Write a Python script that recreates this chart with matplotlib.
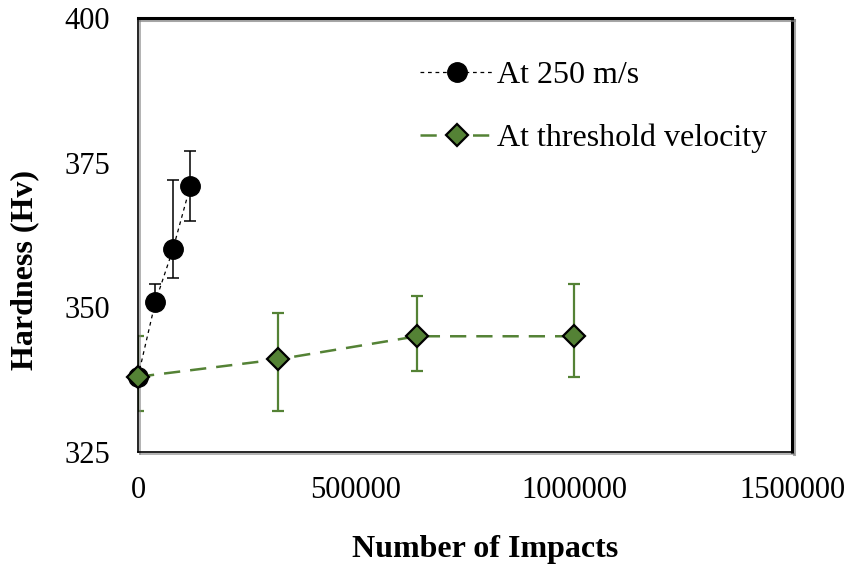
import matplotlib
matplotlib.use("Agg")
import matplotlib.pyplot as plt
import matplotlib.patheffects as pe

# Hardness vs number of impacts
impacts_250 = [0, 40000, 80000, 120000]
hardness_250 = [338, 351, 360, 371]
err_lo_250 = [0, 0, 5, 6]
err_hi_250 = [0, 3, 12, 6]

impacts_thr = [0, 320000, 640000, 1000000]
hardness_thr = [338, 341, 345, 345]
err_lo_thr = [6, 9, 6, 7]
err_hi_thr = [7, 8, 7, 9]

x_ticks = [0, 500000, 1000000, 1500000]
y_ticks = [325, 350, 375, 400]

GREEN = "#548235"

plt.rcParams["font.family"] = ["Liberation Serif", "DejaVu Serif"]

fig = plt.figure(figsize=(8.53, 5.69), dpi=100)
W, H = 853, 569
ax = fig.add_axes([138 / W, 1 - 452 / H, (792 - 138) / W, (452 - 18) / H])

# error bars (clipped at the axes like the original)
ax.errorbar(impacts_250, hardness_250, yerr=[err_lo_250, err_hi_250], fmt="none",
            ecolor="black", elinewidth=1.1, capsize=4.5, capthick=1.1, zorder=2)
ax.errorbar(impacts_thr, hardness_thr, yerr=[err_lo_thr, err_hi_thr], fmt="none",
            ecolor=GREEN, elinewidth=1.6, capsize=4, capthick=1.6, zorder=2)

ax.plot(impacts_250, hardness_250, color="black", lw=0.9, ls=(0, (3, 3)),
        marker="o", ms=14, mfc="black", mec="black", clip_on=False, zorder=3,
        label="At 250 m/s")
ax.plot(impacts_thr, hardness_thr, color=GREEN, lw=1.8, ls=(0, (6.5, 4)),
        marker="D", ms=11, mfc=GREEN, mec="black", mew=1.6, clip_on=False,
        zorder=4, label="At threshold velocity")

ax.set_xlim(0, 1500000)
ax.set_ylim(325, 400)
ax.set_xticks(x_ticks, [str(v) for v in x_ticks])
ax.set_yticks(y_ticks, [str(v) for v in y_ticks])
ax.tick_params(axis="both", length=0, labelsize=22)
ax.tick_params(axis="y", pad=20)
ax.tick_params(axis="x", pad=17)

for side, sp in ax.spines.items():
    sp.set_color("black")
    sp.set_linewidth(2.2 if side in ("top", "right") else 1.2)
    sp.set_path_effects([pe.SimpleLineShadow(offset=(1.5, -1.5), shadow_color="gray",
                                             alpha=0.7), pe.Normal()])

fig.text(485 / W, 1 - 550 / H, "Number of Impacts", fontsize=23, fontweight="bold",
         ha="center", va="center")
fig.text(25 / W, 1 - 270 / H, "Hardness (Hv)", fontsize=23, fontweight="bold",
         ha="center", va="center", rotation=90)

ax.legend(loc="upper left", bbox_to_anchor=(420 / W, 1 - 61 / H),
          bbox_transform=fig.transFigure, frameon=False, fontsize=23,
          handlelength=2.3, handletextpad=0.1, labelspacing=1.05,
          borderpad=0, borderaxespad=0)

fig.savefig("out.png", dpi=100)
